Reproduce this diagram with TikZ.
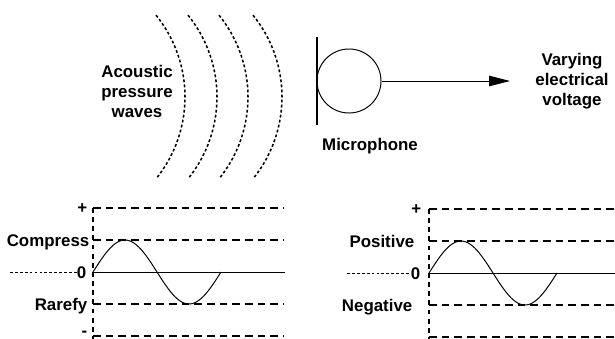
\documentclass[tikz,border=0pt]{standalone}
\usepackage{fontspec}
\setmainfont{Liberation Sans}
\usetikzlibrary{arrows.meta}
\begin{document}
\begin{tikzpicture}[x=0.025cm, y=0.025cm, font=\fontsize{12}{14.2}\selectfont\bfseries, line join=round, >={Triangle[length=5.2mm,width=2.6mm]},
	declare function={sig(\x)=32*sin(2.8125*\x);},
	wave/.style={line width=1.1pt, dash pattern=on 2pt off 1.6pt},
	level/.style={line width=0.8pt, dash pattern=on 5.5pt off 3.5pt},
	axis/.style={line width=0.8pt, dash pattern=on 3.5pt off 3pt},
	lead/.style={line width=0.6pt, dash pattern=on 2pt off 1.5pt},
	curve/.style={line width=0.7pt},
	lbl/.style={inner sep=1pt, align=center}]
	\useasboundingbox (0,0) rectangle (615,338);
	% sound waves
	\foreach \cx in {55,87,118,152}
		\draw[wave] (\cx,241) ++(39:130) arc (39:-39:130);
	\node[lbl] (waves) at (137,247) {Acoustic\\pressure\\waves};
	% microphone
	\node[draw, circle, curve, minimum size=1.6cm, inner sep=0pt] (mic) at (349,257) {};
	\coordinate (diaT) at (317,301);
	\coordinate (diaB) at (317,213);
	\draw[line width=0.8pt] (diaT) -- (diaB);
	\coordinate (tip) at (510,257);
	\draw[->, curve] (mic) -- (tip);
	\node[lbl] (micname) at (370,192) {Microphone};
	\node[lbl] (volt) at (572,257) {Varying\\electrical\\voltage};
	% pressure graph
	\begin{scope}[shift={(93,66)}]
		\draw[level] (0,64) -- (190,64);
		\draw[level] (0,32) -- (190,32);
		\draw[level] (0,-32) -- (190,-32);
		\draw[level] (0,-64) -- (190,-64);
		\draw[axis] (0,64) -- (0,-75);
		\draw[curve] (0,0) -- (192,0);
		\draw[lead] (-83,0) -- (-16,0);
		\draw[curve, domain=0:128, samples=60, smooth] plot (\x,{sig(\x)});
		\node[lbl, anchor=base east] (plusL) at (-4,59) {+};
		\node[lbl, anchor=base east] (compress) at (-2,26) {Compress};
		\node[lbl, anchor=base east] (zeroL) at (-5,-6) {0};
		\node[lbl, anchor=base east] (rarefy) at (-4,-38) {Rarefy};
		\node[lbl, anchor=base east] (minusL) at (-4,-64) {-};
	\end{scope}
	% voltage graph
	\begin{scope}[shift={(429,65)}]
		\draw[level] (0,64) -- (190,64);
		\draw[level] (0,32) -- (190,32);
		\draw[level] (0,-32) -- (190,-32);
		\draw[level] (0,-64) -- (190,-64);
		\draw[axis] (0,64) -- (0,-75);
		\draw[curve] (0,0) -- (190,0);
		\draw[lead] (-82,0) -- (-19,0);
		\draw[curve, domain=0:128, samples=60, smooth] plot (\x,{sig(\x)});
		\node[lbl, anchor=base east] (plusR) at (-6,59) {+};
		\node[lbl, anchor=base east] (positive) at (-13,26) {Positive};
		\node[lbl, anchor=base east] (zeroR) at (-7,-6) {0};
		\node[lbl, anchor=base east] (negative) at (-15,-38) {Negative};
	\end{scope}
\end{tikzpicture}
\end{document}
